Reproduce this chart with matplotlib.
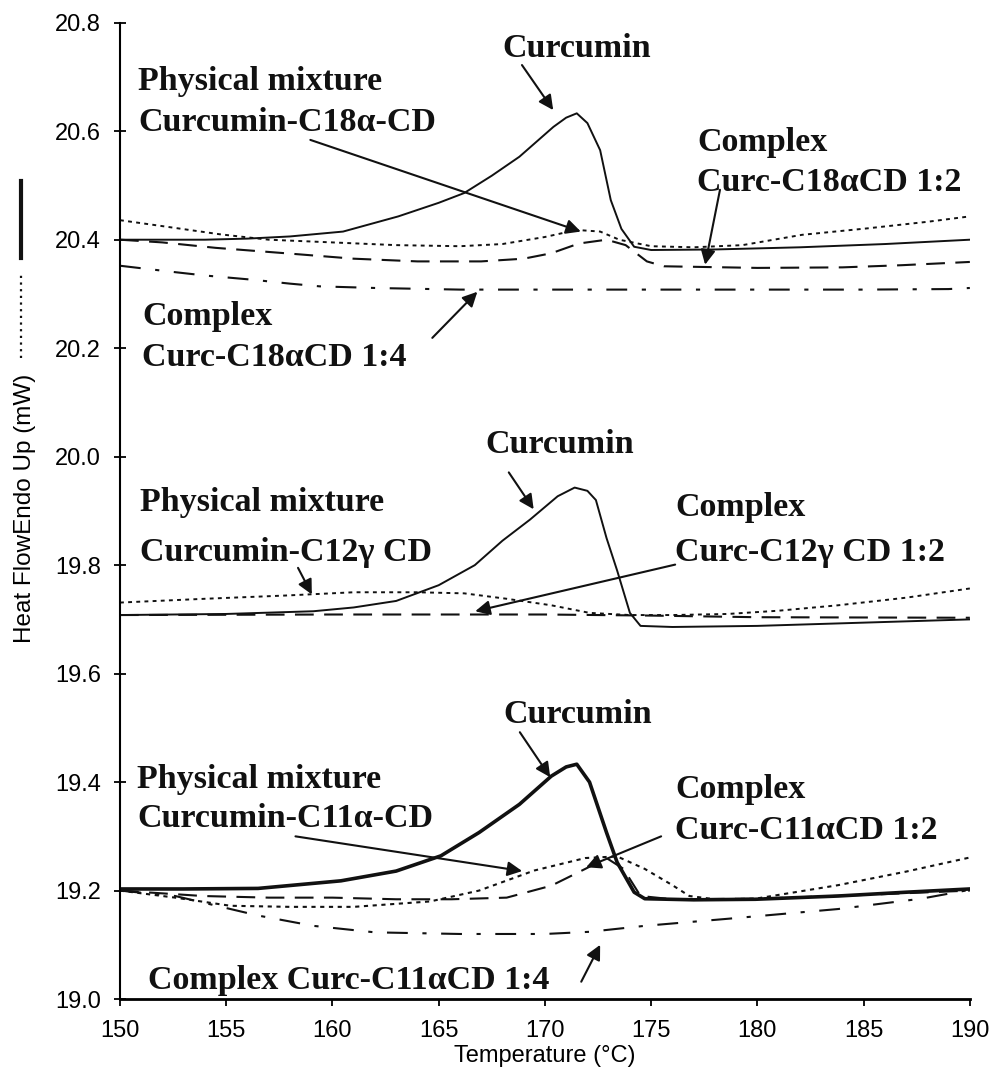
import matplotlib
matplotlib.use("Agg")
import matplotlib.pyplot as plt

# --- data (temperature in degC, heat flow in mW) ---
# C18alpha-CD group (top)
curc_c18_t = [150, 154, 156, 158, 160.5, 163.1, 165, 166.2, 167.5, 168.8, 170.4, 171.0, 171.5,
              172.0, 172.6, 173.1, 173.6, 174.2, 175, 178, 182, 186, 190]
curc_c18_v = [20.40, 20.40, 20.402, 20.406, 20.415, 20.443, 20.468, 20.486, 20.518, 20.553, 20.608, 20.625, 20.633,
              20.615, 20.565, 20.473, 20.42, 20.387, 20.381, 20.382, 20.386, 20.392, 20.40]
phys_c18_t = [150, 152, 154.7, 157, 160, 163, 166, 168, 170, 171.5, 172.6, 173.5, 175, 177, 179.3, 182.1, 185.2, 188, 190]
phys_c18_v = [20.436, 20.425, 20.41, 20.40, 20.395, 20.39, 20.388, 20.392, 20.405, 20.418, 20.415, 20.40, 20.388,
              20.386, 20.39, 20.409, 20.421, 20.433, 20.443]
cplx2_c18_t = [150, 152, 154.5, 157.8, 161, 164, 167, 169, 170.3, 171.6, 172.9, 173.8, 174.8, 175.6, 180, 184, 186.8, 190]
cplx2_c18_v = [20.40, 20.395, 20.385, 20.375, 20.365, 20.36, 20.36, 20.365, 20.375, 20.393, 20.40, 20.39, 20.36,
               20.351, 20.348, 20.349, 20.353, 20.359]
cplx4_c18_t = [150, 152.4, 154, 156.3, 158, 159.4, 162, 166, 170, 175, 180, 185, 189, 190]
cplx4_c18_v = [20.352, 20.341, 20.334, 20.326, 20.319, 20.314, 20.311, 20.308, 20.308, 20.308, 20.308, 20.308,
               20.309, 20.311]

# C12gamma-CD group (middle)
curc_c12_t = [150, 155, 159.1, 161, 163, 165, 166.7, 168, 169.3, 170.6, 171.4, 172.0, 172.4, 172.9, 173.4, 174.0,
              174.5, 176, 180, 185, 190]
curc_c12_v = [19.708, 19.710, 19.715, 19.722, 19.734, 19.763, 19.800, 19.845, 19.884, 19.927, 19.943, 19.937, 19.92,
              19.85, 19.79, 19.712, 19.688, 19.686, 19.688, 19.694, 19.70]
phys_c12_t = [150, 154, 157.8, 161, 164, 166.2, 168.2, 170.3, 172.1, 174, 176, 178.6, 181, 183.8, 187, 190]
phys_c12_v = [19.731, 19.738, 19.744, 19.75, 19.75, 19.748, 19.738, 19.726, 19.712, 19.708, 19.708, 19.71, 19.716,
              19.726, 19.74, 19.757]
cplx2_c12_t = [150, 160, 170, 175, 180, 190]
cplx2_c12_v = [19.708, 19.709, 19.709, 19.707, 19.704, 19.703]

# C11alpha-CD group (bottom)
curc_c11_t = [150, 153, 156.5, 160.4, 163, 165.1, 166.9, 168.8, 170.3, 171.0, 171.5, 172.1, 172.9, 173.4, 174.2,
              174.7, 177, 179.9, 183.8, 187, 190]
curc_c11_v = [19.203, 19.203, 19.204, 19.218, 19.236, 19.264, 19.307, 19.359, 19.411, 19.428, 19.433, 19.40, 19.307,
              19.252, 19.197, 19.185, 19.183, 19.184, 19.19, 19.197, 19.203]
phys_c11_t = [150, 152.6, 155.2, 158, 161, 164.6, 166.9, 169.5, 171.9, 173.4, 174.7, 176, 176.8, 178, 179.9, 183.8,
              187, 190]
phys_c11_v = [19.20, 19.187, 19.172, 19.170, 19.170, 19.18, 19.20, 19.237, 19.26, 19.263, 19.24, 19.21, 19.19,
              19.184, 19.185, 19.21, 19.235, 19.261]
cplx2_c11_t = [150, 153.9, 157, 160, 163, 165.6, 168.2, 170.3, 171.9, 172.9, 173.7, 174.5, 176, 180, 185, 190]
cplx2_c11_v = [19.20, 19.19, 19.187, 19.187, 19.184, 19.184, 19.187, 19.209, 19.24, 19.26, 19.24, 19.19, 19.184,
               19.185, 19.192, 19.20]
cplx4_c11_t = [150, 152.6, 156.5, 159.1, 162, 166, 170, 172.1, 174.7, 178.6, 183.8, 187.7, 189.8]
cplx4_c11_v = [19.20, 19.19, 19.154, 19.135, 19.123, 19.12, 19.12, 19.124, 19.135, 19.148, 19.166, 19.185, 19.20]

x_ticks = [150, 155, 160, 165, 170, 175, 180, 185, 190]
y_ticks = [19.0, 19.2, 19.4, 19.6, 19.8, 20.0, 20.2, 20.4, 20.6, 20.8]

SOLID = "-"
DOTTED = (0, (2, 2.2))
LONGDASH = (0, (9, 5))
DASHDOT = (0, (10, 7, 2, 7))
INK = "#111111"
SANS = ["Liberation Sans", "DejaVu Sans"]
LABEL_FONT = dict(family=["Liberation Serif", "DejaVu Serif"], fontsize=24.5, fontweight="bold", color=INK)

fig = plt.figure(figsize=(9.94, 10.83), dpi=100)
ax = fig.add_axes([0.1207, 0.0775, 0.855, 0.9015])

curves = [
    (curc_c18_t, curc_c18_v, SOLID, 1.4),
    (phys_c18_t, phys_c18_v, DOTTED, 1.4),
    (cplx2_c18_t, cplx2_c18_v, LONGDASH, 1.5),
    (cplx4_c18_t, cplx4_c18_v, DASHDOT, 1.5),
    (curc_c12_t, curc_c12_v, SOLID, 1.4),
    (phys_c12_t, phys_c12_v, DOTTED, 1.4),
    (cplx2_c12_t, cplx2_c12_v, LONGDASH, 1.5),
    (curc_c11_t, curc_c11_v, SOLID, 2.6),
    (phys_c11_t, phys_c11_v, DOTTED, 1.5),
    (cplx2_c11_t, cplx2_c11_v, LONGDASH, 1.5),
    (cplx4_c11_t, cplx4_c11_v, DASHDOT, 1.5),
]
for t, v, ls, lw in curves:
    ax.plot(t, v, linestyle=ls, color=INK, lw=lw)

ax.set_xlim(150, 190)
ax.set_ylim(19.0, 20.8)
ax.set_xticks(x_ticks)
ax.set_yticks(y_ticks)
ax.set_yticklabels([f"{y:.1f}" for y in y_ticks])
for side in ("top", "right"):
    ax.spines[side].set_visible(False)
ax.spines["left"].set_linewidth(1.5)
ax.spines["bottom"].set_linewidth(2.0)
ax.tick_params(axis="y", direction="inout", length=9, width=1.3, labelsize=17, pad=9)
ax.tick_params(axis="x", direction="out", length=5, width=1.3, labelsize=17, pad=10)
for lab in ax.get_xticklabels() + ax.get_yticklabels():
    lab.set_family(SANS)
ax.set_xlabel("Temperature (\u00b0C)", fontsize=17, family=SANS, labelpad=2)

# y label with the solid / dotted key drawn beside it
fig.text(0.025, 0.531, "Heat FlowEndo Up (mW)", rotation=90, ha="center", va="center",
         fontsize=17.5, family=SANS)
fig.add_artist(plt.Line2D([0.021, 0.021], [0.762, 0.833], color=INK, lw=3, transform=fig.transFigure))
fig.add_artist(plt.Line2D([0.021, 0.021], [0.669, 0.748], color=INK, lw=1.6, linestyle=(0, (1, 2)),
                          transform=fig.transFigure))

arrow = dict(arrowstyle="-|>", color=INK, lw=1.5, mutation_scale=22, shrinkA=0, shrinkB=0)

# top group
ax.text(168.0, 20.753, "Curcumin", ha="left", va="center", **LABEL_FONT)
ax.annotate("", xy=(170.39, 20.639), xytext=(168.92, 20.722), arrowprops=arrow)
ax.text(150.87, 20.691, "Physical mixture", ha="left", va="center", **LABEL_FONT)
ax.text(150.87, 20.617, "Curcumin-C18\u03b1-CD", ha="left", va="center", **LABEL_FONT)
ax.annotate("", xy=(171.69, 20.415), xytext=(158.96, 20.584), arrowprops=arrow)
ax.text(177.16, 20.580, "Complex", ha="left", va="center", **LABEL_FONT)
ax.text(177.16, 20.505, "Curc-C18\u03b1CD 1:2", ha="left", va="center", **LABEL_FONT)
ax.annotate("", xy=(177.54, 20.354), xytext=(178.24, 20.492), arrowprops=arrow)
ax.text(151.06, 20.258, "Complex", ha="left", va="center", **LABEL_FONT)
ax.text(151.06, 20.182, "Curc-C18\u03b1CD 1:4", ha="left", va="center", **LABEL_FONT)
ax.annotate("", xy=(166.82, 20.304), xytext=(164.70, 20.219), arrowprops=arrow)

# middle group
ax.text(167.19, 20.022, "Curcumin", ha="left", va="center", **LABEL_FONT)
ax.annotate("", xy=(169.47, 19.903), xytext=(168.30, 19.971), arrowprops=arrow)
ax.text(150.92, 19.915, "Physical mixture", ha="left", va="center", **LABEL_FONT)
ax.text(150.92, 19.823, "Curcumin-C12\u03b3 CD", ha="left", va="center", **LABEL_FONT)
ax.annotate("", xy=(159.03, 19.746), xytext=(158.38, 19.795), arrowprops=arrow)
ax.text(176.13, 19.906, "Complex", ha="left", va="center", **LABEL_FONT)
ax.text(176.13, 19.823, "Curc-C12\u03b3 CD 1:2", ha="left", va="center", **LABEL_FONT)
ax.annotate("", xy=(166.72, 19.715), xytext=(176.13, 19.801), arrowprops=arrow)

# bottom group
ax.text(168.04, 19.525, "Curcumin", ha="left", va="center", **LABEL_FONT)
ax.annotate("", xy=(170.25, 19.409), xytext=(168.82, 19.492), arrowprops=arrow)
ax.text(150.82, 19.405, "Physical mixture", ha="left", va="center", **LABEL_FONT)
ax.text(150.82, 19.332, "Curcumin-C11\u03b1-CD", ha="left", va="center", **LABEL_FONT)
ax.annotate("", xy=(168.93, 19.236), xytext=(158.26, 19.300), arrowprops=arrow)
ax.text(176.13, 19.387, "Complex", ha="left", va="center", **LABEL_FONT)
ax.text(176.13, 19.310, "Curc-C11\u03b1CD 1:2", ha="left", va="center", **LABEL_FONT)
ax.annotate("", xy=(171.94, 19.243), xytext=(175.47, 19.300), arrowprops=arrow)
ax.text(151.34, 19.035, "Complex Curc-C11\u03b1CD 1:4", ha="left", va="center", **LABEL_FONT)
ax.annotate("", xy=(172.60, 19.100), xytext=(171.71, 19.032), arrowprops=arrow)

fig.savefig("out.png", dpi=100)
